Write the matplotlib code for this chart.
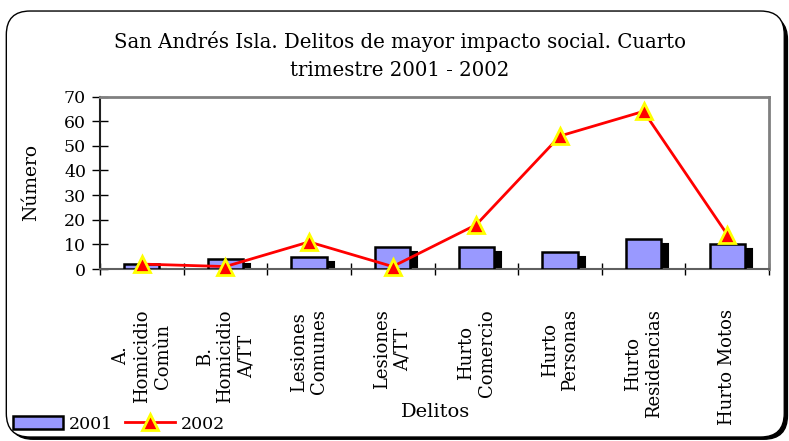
import numpy as np
import matplotlib
matplotlib.use("Agg")
import matplotlib.pyplot as plt
from matplotlib.patches import FancyBboxPatch
from matplotlib.transforms import ScaledTranslation

categories = ["A.\nHomicidio\nComùn", "B.\nHomicidio\nA/TT", "Lesiones\nComunes",
              "Lesiones\nA/TT", "Hurto\nComercio", "Hurto\nPersonas",
              "Hurto\nResidencias", "Hurto Motos"]
values_2001 = [2, 4, 5, 9, 9, 7, 12, 10]
values_2002 = [2, 1, 11, 1, 18, 54, 64, 14]
y_ticks = [0, 10, 20, 30, 40, 50, 60, 70]

title = "San Andrés Isla. Delitos de mayor impacto social. Cuarto\ntrimestre 2001 - 2002"

serif = "DejaVu Serif"

fig = plt.figure(figsize=(7.89, 4.41), dpi=100)

# rounded frame with shadow
shadow = FancyBboxPatch((0.012, 0.004), 0.986, 0.96, boxstyle="round,pad=0,rounding_size=0.03",
                        transform=fig.transFigure, facecolor="black", edgecolor="black",
                        mutation_aspect=789 / 441, zorder=0)
frame = FancyBboxPatch((0.008, 0.009), 0.986, 0.966, boxstyle="round,pad=0,rounding_size=0.03",
                       transform=fig.transFigure, facecolor="white", edgecolor="black",
                       linewidth=1.0, mutation_aspect=789 / 441, zorder=0)
fig.patches.extend([shadow, frame])

ax = fig.add_axes([0.1267, 0.390, 0.848, 0.391], zorder=2)
ax.set_facecolor("none")

x = np.arange(len(categories))
bar_w = 0.42

# 3D-ish shadow behind each bar
shift = ax.transData + ScaledTranslation(7 / 100, -5 / 100, fig.dpi_scale_trans)
ax.bar(x, values_2001, width=bar_w, color="black", edgecolor="black", linewidth=1.5,
       transform=shift, zorder=2)
bars = ax.bar(x, values_2001, width=bar_w, color="#9999FF", edgecolor="black",
              linewidth=1.8, zorder=3, label="2001")
line, = ax.plot(x, values_2002, color="#FF0000", linewidth=2, marker="^", markersize=11.5,
                markerfacecolor="#FF0000", markeredgecolor="#FFFF00", markeredgewidth=2,
                zorder=4, label="2002", clip_on=False)

ax.set_xlim(-0.5, len(categories) - 0.5)
ax.set_ylim(0, 70)
ax.set_yticks(y_ticks)
ax.set_yticklabels([str(v) for v in y_ticks], fontfamily=serif, fontsize=12.5)
ax.tick_params(axis="y", direction="inout", length=12, width=1, pad=4)

ax.set_xticks(x)
ax.set_xticklabels(categories, rotation=90, fontfamily=serif, fontsize=13,
                   multialignment="center", va="top", ha="center")
ax.tick_params(axis="x", which="major", length=0, pad=29)
ax.set_xticks(np.arange(len(categories) + 1) - 0.5, minor=True)
ax.tick_params(axis="x", which="minor", direction="inout", length=9, width=1)

for side in ["top", "right"]:
    ax.spines[side].set_color("#808080")
    ax.spines[side].set_linewidth(2)
ax.spines["left"].set_color("#202020")
ax.spines["left"].set_linewidth(1.5)
ax.spines["bottom"].set_color("#606060")
ax.spines["bottom"].set_linewidth(1.5)

ax.set_ylabel("Número", fontfamily=serif, fontsize=13.5, labelpad=17)
fig.text(0.552, 0.045, "Delitos", fontfamily=serif, fontsize=14, ha="center", va="bottom")
fig.text(0.507, 0.875, title, fontfamily=serif, fontsize=14.2, ha="center", va="center",
         linespacing=1.6)

fig.legend(handles=[bars, line], labels=["2001", "2002"], loc="center left",
           bbox_to_anchor=(0.0165, 0.0385), ncol=2, frameon=False,
           prop={"family": serif, "size": 12.5}, handlelength=2.9, handleheight=0.7,
           columnspacing=0.7, handletextpad=0.3, borderaxespad=0, borderpad=0)

fig.savefig("out.png", dpi=100)
